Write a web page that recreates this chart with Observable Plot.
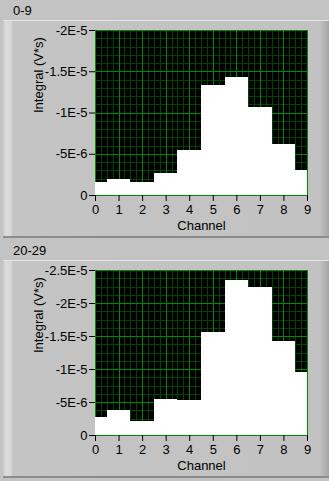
<!DOCTYPE html>
<html><head><meta charset="utf-8">
<script src="https://cdn.jsdelivr.net/npm/d3@7"></script>
<script src="https://cdn.jsdelivr.net/npm/@observablehq/plot@0.6"></script>
<style>
html,body{margin:0;padding:0;background:#c3c3c3;width:329px;height:481px;overflow:hidden;font-family:"Liberation Sans",Arial,sans-serif;position:relative;}
.title{position:absolute;left:13px;font-size:13px;color:#000;line-height:14px;}
.panel{position:absolute;left:3px;width:326px;height:215px;border-top:1px solid #e6e6e6;border-bottom:2px solid #8c8c8c;
background:linear-gradient(to right,#c9c9c9 0px,#dddddd 3px,#d6d6d6 8px,#c4c4c4 10px,#c2c2c2 calc(100% - 10px),#b4b4b4 calc(100% - 5px),#a4a4a4 100%);}
.chart{position:absolute;left:0;}
.chart svg{display:block;}
</style></head>
<body>
<div class="title" style="top:4px">0-9</div>
<div class="panel" style="top:20px"></div>
<div class="chart" id="c1" style="top:20px"></div>
<div class="title" style="top:244px">20-29</div>
<div class="panel" style="top:260px"></div>
<div class="chart" id="c2" style="top:260px"></div>
<script>
// Data
const channels = [0, 1, 2, 3, 4, 5, 6, 7, 8, 9];
const integral0_9 = [-1.57e-6, -2.0e-6, -1.57e-6, -2.66e-6, -5.5e-6, -1.336e-5, -1.43e-5, -1.07e-5, -6.24e-6, -2.98e-6];
const integral20_29 = [-2.72e-6, -3.77e-6, -2.06e-6, -5.53e-6, -5.28e-6, -1.554e-5, -2.35e-5, -2.24e-5, -1.42e-5, -9.6e-6];
const yTicks0_9 = [0, -5e-6, -1e-5, -1.5e-5, -2e-5];
const yLabels0_9 = ["0", "-5E-6", "-1E-5", "-1.5E-5", "-2E-5"];
const yTicks20_29 = [0, -5e-6, -1e-5, -1.5e-5, -2e-5, -2.5e-5];
const yLabels20_29 = ["0", "-5E-6", "-1E-5", "-1.5E-5", "-2E-5", "-2.5E-5"];
const xLabel = "Channel";
const yLabel = "Integral (V*s)";

function panel(el, values, yTicks, yLabels, yMinorStep) {
  const data = channels.map((c, i) => ({ch: c, v: values[i]}));
  const yMax = yTicks[yTicks.length - 1];
  const xMinor = d3.range(0, 9.0001, 0.25);
  const yMinor = d3.range(0, Math.abs(yMax) * 1.0001, yMinorStep).map(d => -d);
  const chart = Plot.plot({
    width: 329,
    height: 217,
    marginLeft: 95,
    marginRight: 22,
    marginTop: 10,
    marginBottom: 42,
    style: {background: "transparent", fontFamily: "'Liberation Sans', Arial, sans-serif", fontSize: "13px", color: "black"},
    x: {domain: [0, 9]},
    y: {domain: [0, yMax]},
    marks: [
      Plot.frame({fill: "black", stroke: null}),
      Plot.gridX(xMinor, {stroke: "#004400", strokeOpacity: 1, shapeRendering: "crispEdges"}),
      Plot.gridY(yMinor, {stroke: "#004400", strokeOpacity: 1, shapeRendering: "crispEdges"}),
      Plot.gridX(channels, {stroke: "#008a00", strokeOpacity: 1, shapeRendering: "crispEdges"}),
      Plot.gridY(yTicks, {stroke: "#008a00", strokeOpacity: 1, shapeRendering: "crispEdges"}),
      Plot.rectY(data, {x1: d => d.ch - 0.5, x2: d => d.ch + 0.5, y: "v", fill: "white", clip: true, shapeRendering: "crispEdges"}),
      Plot.axisX(channels, {tickSize: 6, tickPadding: 3, label: null, stroke: "black", fill: "black", fontSize: 13}),
      Plot.axisY(yTicks, {tickSize: 6, tickPadding: 2, label: null, stroke: "black", fill: "black", fontSize: 13,
        tickFormat: d => yLabels[yTicks.indexOf(d)]}),
      Plot.text([xLabel], {frameAnchor: "bottom", dy: 34, fill: "black", fontSize: 13}),
      Plot.text([yLabel], {frameAnchor: "left", dx: -57, rotate: -90, fill: "black", fontSize: 13})
    ]
  });
  document.getElementById(el).appendChild(chart);
}
panel("c1", integral0_9, yTicks0_9, yLabels0_9, 1e-6);
panel("c2", integral20_29, yTicks20_29, yLabels20_29, 1.25e-6);
</script>
</body></html>
